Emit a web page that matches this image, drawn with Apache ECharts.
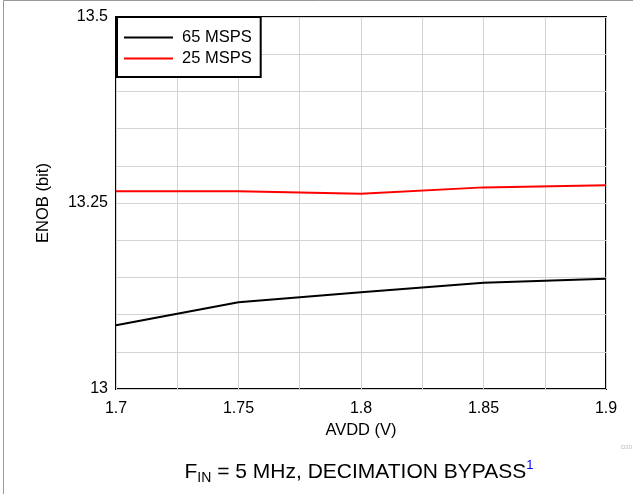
<!DOCTYPE html>
<html><head><meta charset="utf-8">
<script src="https://cdn.jsdelivr.net/npm/echarts@6/dist/echarts.min.js"></script>
<style>html,body{margin:0;padding:0;background:#fff}#c{width:633px;height:494px}</style>
</head><body><div id="c"></div>
<script>
var avdd = [1.7, 1.75, 1.8, 1.85, 1.9];
var enob65 = [13.0856, 13.1165, 13.130, 13.1429, 13.1483];
var enob25 = [13.2657, 13.2657, 13.2625, 13.271, 13.274];
var seriesNames = ['65 MSPS', '25 MSPS'];
var yLabels = [13, 13.25, 13.5];
var xLabels = [1.7, 1.75, 1.8, 1.85, 1.9];

function pairs(xs, ys){ return xs.map(function(x,i){ return [x, ys[i]]; }); }
function near(v, arr){ for (var i=0;i<arr.length;i++){ if (Math.abs(v-arr[i])<1e-6) return true; } return false; }
var FONT = 'Liberation Sans, Arial, sans-serif';

var chart = echarts.init(document.getElementById('c'), null, {renderer:'canvas'});
chart.setOption({
  animation: false,
  backgroundColor: '#fff',
  textStyle: {fontFamily: FONT},
  grid: {left: 116, right: 27, top: 17, bottom: 105, show: true, borderColor: '#000', borderWidth: 2, backgroundColor: 'transparent'},
  xAxis: {
    type: 'value', min: 1.7, max: 1.9, interval: 0.025,
    name: 'AVDD (V)', nameLocation: 'middle', nameGap: 29,
    nameTextStyle: {color: '#000', fontSize: 16.5, fontFamily: FONT},
    axisLine: {show: false}, axisTick: {show: false},
    axisLabel: {color: '#000', fontSize: 16, fontFamily: FONT, margin: 12,
      formatter: function(v){ return near(v, xLabels) ? String(+v.toFixed(3)) : ''; }},
    splitLine: {show: true, lineStyle: {color: '#d3d3d3', width: 1}}
  },
  yAxis: {
    type: 'value', min: 13, max: 13.5, interval: 0.05,
    name: 'ENOB (bit)', nameLocation: 'middle', nameGap: 64, nameRotate: 90,
    nameTextStyle: {color: '#000', fontSize: 16.5, fontFamily: FONT},
    axisLine: {show: false}, axisTick: {show: false},
    axisLabel: {color: '#000', fontSize: 16, fontFamily: FONT, margin: 8,
      formatter: function(v){ return near(v, yLabels) ? String(+v.toFixed(3)) : ''; }},
    splitLine: {show: true, lineStyle: {color: '#d3d3d3', width: 1}}
  },
  legend: {
    show: true, left: 117, top: 17, orient: 'vertical',
    data: seriesNames,
    backgroundColor: '#fff', borderColor: '#000', borderWidth: 2, borderRadius: 0,
    padding: [12, 9, 10, 7], itemGap: 4, itemWidth: 49, itemHeight: 20,
    icon: 'path://M0,0 L49,0 L49,2 L0,2 Z',
    textStyle: {color: '#000', fontSize: 16.5, fontFamily: FONT, padding: [0, 0, 0, 4]}
  },
  series: [
    {name: seriesNames[0], type: 'line', data: pairs(avdd, enob65), showSymbol: false, symbol: 'none',
     lineStyle: {color: '#000', width: 2}, itemStyle: {color: '#000'}, z: 3},
    {name: seriesNames[1], type: 'line', data: pairs(avdd, enob25), showSymbol: false, symbol: 'none',
     lineStyle: {color: '#ff0000', width: 2}, itemStyle: {color: '#ff0000'}, z: 3}
  ],
  graphic: [
    {type: 'rect', shape: {x: 3.5, y: 0.5, width: 700, height: 600}, style: {fill: 'none', stroke: '#999', lineWidth: 1}, silent: true, z: -1},
    {type: 'text', x: 621, y: 444, style: {text: 'D30', fill: '#bbb', fontSize: 6, fontFamily: FONT}},
    {type: 'text', x: 359, y: 472,
     style: {
       align: 'center', verticalAlign: 'middle',
       rich: {
         a: {fontSize: 21, lineHeight: 26, fill: '#000', fontFamily: FONT},
         s: {fontSize: 14, lineHeight: 10, fill: '#000', fontFamily: FONT, verticalAlign: 'bottom'},
         u: {fontSize: 13, lineHeight: 20, fill: '#0000ee', fontFamily: FONT, verticalAlign: 'top'}
       },
       text: '{a|F}{s|IN}{a| = 5 MHz, DECIMATION BYPASS}{u|1}'
     }}
  ]
});
</script></body></html>
